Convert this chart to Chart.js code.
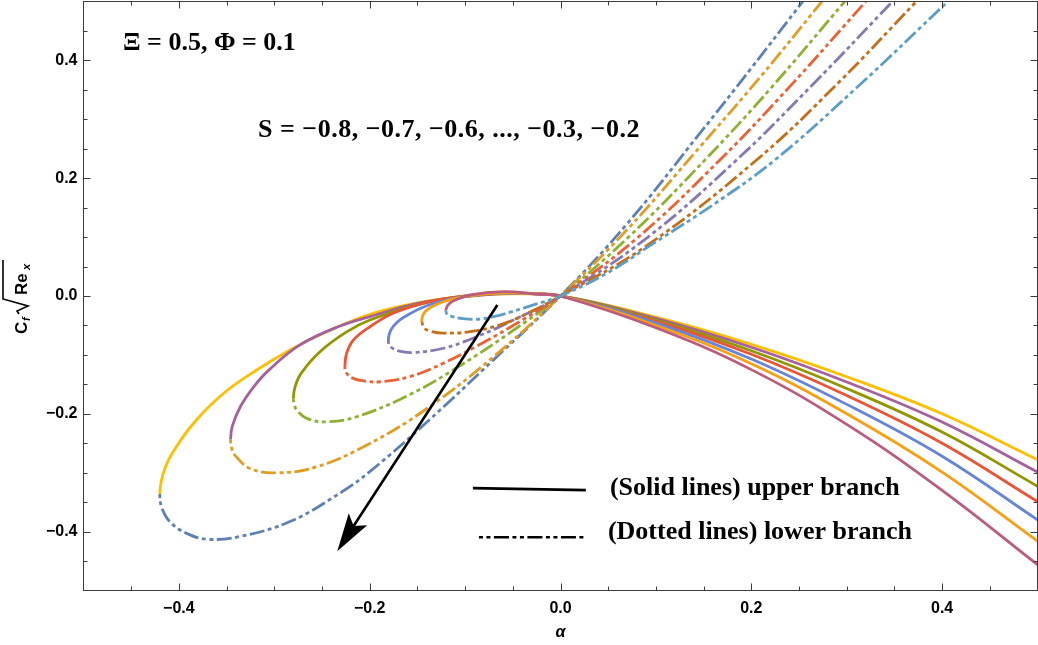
<!DOCTYPE html>
<html>
<head>
<meta charset="utf-8">
<script src="https://cdn.jsdelivr.net/npm/chart.js@4.4.0/dist/chart.umd.min.js"></script>
<style>
  html, body { margin: 0; padding: 0; background: #ffffff; }
  canvas { display: block; }
</style>
</head>
<body>
<canvas id="plot" width="1038" height="645"></canvas>
<script>
// Skin friction Cf*sqrt(Re_x) against alpha, for S = -0.8 ... -0.2
// Each branch is a list of [alpha, Cf*sqrt(Re_x)] pairs, both branches of a
// given S start at their common turning point.

// Lower (second) solution branches
const lowerS08 = [[-0.420,-0.336],[-0.4178,-0.360],[-0.409,-0.384],[-0.392,-0.403],[-0.370,-0.413],[-0.335,-0.408],[-0.283,-0.3825],[-0.2306,-0.334],[-0.199,-0.297],[-0.14,-0.214],[-0.07,-0.108],[0,0],[0.07,0.123],[0.146,0.276],[0.2,0.387],[0.254,0.5]];
const lowerS07 = [[-0.3458,-0.2435],[-0.3448,-0.258],[-0.3412,-0.2705],[-0.3255,-0.2928],[-0.2975,-0.3002],[-0.2555,-0.290],[-0.1998,-0.2503],[-0.14,-0.191],[-0.07,-0.103],[0,0],[0.07,0.113],[0.146,0.253],[0.21,0.373],[0.274,0.5]];
const lowerS06 = [[-0.2800,-0.1738],[-0.2788,-0.1852],[-0.2765,-0.1937],[-0.2660,-0.2078],[-0.2450,-0.2136],[-0.2136,-0.2050],[-0.1575,-0.167],[-0.105,-0.118],[-0.0528,-0.062],[0,0],[0.07,0.098],[0.1511,0.2305],[0.22,0.352],[0.298,0.5]];
const lowerS05 = [[-0.2259,-0.1172],[-0.2250,-0.129],[-0.2185,-0.139],[-0.2050,-0.1445],[-0.1892,-0.1456],[-0.1575,-0.1367],[-0.1226,-0.114],[-0.0877,-0.085],[-0.0528,-0.053],[0,0],[0.08,0.098],[0.1668,0.2305],[0.24,0.355],[0.320,0.5]];
const lowerS04 = [[-0.1804,-0.0746],[-0.1795,-0.083],[-0.1752,-0.0895],[-0.166,-0.0945],[-0.154,-0.096],[-0.1226,-0.0887],[-0.0877,-0.069],[-0.0528,-0.0435],[0,0],[0.09,0.098],[0.1843,0.2305],[0.265,0.36],[0.348,0.5]];
const lowerS03 = [[-0.1452,-0.0436],[-0.1435,-0.053],[-0.139,-0.0585],[-0.1226,-0.063],[-0.0947,-0.0605],[-0.0633,-0.049],[-0.0354,-0.030],[0,0],[0.09,0.085],[0.2052,0.2305],[0.29,0.36],[0.373,0.5]];
const lowerS02 = [[-0.1201,-0.0249],[-0.1192,-0.030],[-0.114,-0.0345],[-0.105,-0.0378],[-0.0877,-0.0395],[-0.0703,-0.035],[-0.0528,-0.0275],[-0.025,-0.0135],[0,0],[0.05,0.040],[0.1,0.092],[0.16,0.155],[0.2244,0.2305],[0.31,0.353],[0.406,0.5]];

// Upper (first) solution branches
const upperS08 = [[-0.420,-0.336],[-0.4182,-0.312],[-0.4137,-0.2885],[-0.4072,-0.2675],[-0.3849,-0.2165],[-0.3534,-0.1656],[-0.3185,-0.1257],[-0.2835,-0.0917],[-0.2486,-0.0634],[-0.1998,-0.031],[-0.15,-0.0115],[-0.1,-0.0005],[-0.05,0.0035],[0,0],[0.1,-0.036],[0.2,-0.082],[0.3,-0.137],[0.4,-0.200],[0.5,-0.278]];
const upperS07 = [[-0.3458,-0.2435],[-0.3441,-0.2215],[-0.3355,-0.1876],[-0.3214,-0.1537],[-0.3055,-0.1254],[-0.2731,-0.083],[-0.2312,-0.051],[-0.1998,-0.035],[-0.15,-0.0125],[-0.1,-0.001],[-0.05,0.0045],[0,0],[0.1,-0.038],[0.2,-0.087],[0.3,-0.146],[0.4,-0.214],[0.5,-0.299]];
const upperS06 = [[-0.2800,-0.1738],[-0.2782,-0.154],[-0.2719,-0.1313],[-0.2521,-0.0946],[-0.2242,-0.061],[-0.1998,-0.0408],[-0.15,-0.0145],[-0.1,0.0],[-0.05,0.005],[0,0],[0.1,-0.041],[0.2,-0.093],[0.3,-0.157],[0.4,-0.231],[0.5,-0.323]];
const upperS05 = [[-0.2259,-0.1172],[-0.2242,-0.0973],[-0.2172,-0.0748],[-0.1998,-0.0522],[-0.1750,-0.029],[-0.1401,-0.0107],[-0.1054,-0.001],[-0.06,0.0045],[-0.03,0.004],[0,0],[0.1,-0.043],[0.2,-0.099],[0.3,-0.169],[0.4,-0.250],[0.5,-0.349]];
const upperS04 = [[-0.1804,-0.0746],[-0.1797,-0.066],[-0.1772,-0.056],[-0.1720,-0.046],[-0.1647,-0.0365],[-0.1402,-0.0165],[-0.1053,-0.002],[-0.0705,0.004],[-0.035,0.004],[0,0],[0.1,-0.046],[0.2,-0.107],[0.3,-0.184],[0.4,-0.272],[0.5,-0.380]];
const upperS03 = [[-0.1452,-0.0436],[-0.1448,-0.035],[-0.1420,-0.0266],[-0.1350,-0.0181],[-0.1228,-0.0097],[-0.1053,-0.0022],[-0.0705,0.0046],[-0.035,0.0045],[0,0],[0.1,-0.050],[0.2,-0.115],[0.3,-0.200],[0.4,-0.299],[0.5,-0.416]];
const upperS02 = [[-0.1201,-0.0249],[-0.1195,-0.020],[-0.1175,-0.0145],[-0.1125,-0.0085],[-0.0948,0.0017],[-0.060,0.0073],[-0.025,0.0034],[0,0],[0.1,-0.054],[0.2,-0.125],[0.3,-0.218],[0.4,-0.330],[0.5,-0.456]];

const sLabels = ['-0.8', '-0.7', '-0.6', '-0.5', '-0.4', '-0.3', '-0.2'];
const lowerBranches = [lowerS08, lowerS07, lowerS06, lowerS05, lowerS04, lowerS03, lowerS02];
const upperBranches = [upperS08, upperS07, upperS06, upperS05, upperS04, upperS03, upperS02];

// Axis ticks
const xTickValues = [-0.4, -0.2, 0, 0.2, 0.4];
const yTickValues = [-0.4, -0.2, 0, 0.2, 0.4];
const minorTickValues = [-0.45, -0.35, -0.3, -0.25, -0.15, -0.1, -0.05, 0.05, 0.1, 0.15, 0.25, 0.3, 0.35, 0.45];

// Arrow showing the direction of decreasing S, in data units [alpha, Cf]
const arrowFrom = [-0.0662, -0.0153];
const arrowTo = [-0.2340, -0.4332];

// Styles
const lowerColors = ['#5E81B5', '#E19C24', '#8FB032', '#EB6235', '#8778B3', '#C56E1A', '#5D9EC7'];
const upperColors = ['#FFBF00', '#A5609D', '#929600', '#E95536', '#6685D9', '#F89F13', '#BC5B80'];
const dotDash = [4, 3.5, 4, 3.5, 15, 3.5];
const curveWidth = 2.8;

// One continuous curve per S: upper branch walked back to the turning point,
// then on along the lower branch, so the join is smooth. Segments before the
// turning point are solid, the rest dot-dashed.
const datasets = upperBranches.map((upper, i) => {
  const turn = upper.length - 1;
  const pts = upper.slice().reverse().concat(lowerBranches[i].slice(1));
  return {
    label: 'S = ' + sLabels[i],
    data: pts,
    showLine: true,
    pointRadius: 0,
    pointHoverRadius: 0,
    tension: 0.4,
    fill: false,
    clip: 0,
    borderWidth: curveWidth,
    borderCapStyle: 'butt',
    borderColor: upperColors[i],
    segment: {
      borderColor: ctx => (ctx.p0DataIndex < turn ? upperColors[i] : lowerColors[i]),
      borderDash: ctx => (ctx.p0DataIndex < turn ? [] : dotDash)
    },
    order: upperBranches.length - i
  };
});

function fmtTick(v) {
  if (Math.abs(v) < 1e-9) return '0.0';
  return (v < 0 ? '\u2212' : '') + Math.abs(v).toFixed(1);
}

const tickFont = { family: '"Liberation Sans", Arial, sans-serif', size: 16, weight: 'bold' };
const frameColor = '#3c3c3c';

// draw text so that it spans a given width by spreading the letters
function spreadText(ctx, text, x, y, width) {
  const natural = ctx.measureText(text).width;
  if ('letterSpacing' in ctx && width > natural) {
    ctx.letterSpacing = ((width - natural) / text.length).toFixed(2) + 'px';
    ctx.fillText(text, x, y);
    ctx.letterSpacing = '0px';
  } else {
    ctx.fillText(text, x, y);
  }
}

const decor = {
  id: 'decor',
  afterDatasetsDraw(chart) {
    const ctx = chart.ctx;
    const area = chart.chartArea;
    const xs = chart.scales.x, ys = chart.scales.y;
    const px = v => xs.getPixelForValue(v);
    const py = v => ys.getPixelForValue(v);
    ctx.save();

    // frame
    ctx.strokeStyle = frameColor;
    ctx.lineWidth = 1;
    ctx.setLineDash([]);
    ctx.strokeRect(area.left, area.top, area.right - area.left, area.bottom - area.top);

    // inward ticks on all four sides
    const drawX = (v, len) => {
      const X = Math.round(px(v)) + 0.5;
      ctx.beginPath();
      ctx.moveTo(X, area.bottom); ctx.lineTo(X, area.bottom - len);
      ctx.moveTo(X, area.top); ctx.lineTo(X, area.top + len);
      ctx.stroke();
    };
    const drawY = (v, len) => {
      const Y = Math.round(py(v)) + 0.5;
      ctx.beginPath();
      ctx.moveTo(area.left, Y); ctx.lineTo(area.left + len, Y);
      ctx.moveTo(area.right, Y); ctx.lineTo(area.right - len, Y);
      ctx.stroke();
    };
    xTickValues.forEach(v => drawX(v, 7));
    yTickValues.forEach(v => drawY(v, 7));
    minorTickValues.forEach(v => { drawX(v, 4); drawY(v, 4); });

    // arrow
    const x0 = px(arrowFrom[0]), y0 = py(arrowFrom[1]);
    const x1 = px(arrowTo[0]), y1 = py(arrowTo[1]);
    const dx = x1 - x0, dy = y1 - y0, L = Math.hypot(dx, dy);
    const ux = dx / L, uy = dy / L, nx = -uy, ny = ux;
    const headLen = 38, headHalf = 11, notch = 30;
    ctx.strokeStyle = '#000';
    ctx.fillStyle = '#000';
    ctx.lineWidth = 2.6;
    ctx.beginPath();
    ctx.moveTo(x0, y0);
    ctx.lineTo(x1 - ux * notch, y1 - uy * notch);
    ctx.stroke();
    ctx.beginPath();
    ctx.moveTo(x1, y1);
    ctx.lineTo(x1 - ux * headLen + nx * headHalf, y1 - uy * headLen + ny * headHalf);
    ctx.lineTo(x1 - ux * notch, y1 - uy * notch);
    ctx.lineTo(x1 - ux * headLen - nx * headHalf, y1 - uy * headLen - ny * headHalf);
    ctx.closePath();
    ctx.fill();

    // key samples
    ctx.lineWidth = 2.6;
    ctx.beginPath();
    ctx.moveTo(px(-0.0918), py(-0.3262));
    ctx.lineTo(px(0.0266), py(-0.3296));
    ctx.stroke();
    ctx.setLineDash(dotDash);
    ctx.beginPath();
    ctx.moveTo(px(-0.0855), py(-0.4095));
    ctx.lineTo(px(0.0277), py(-0.4095));
    ctx.stroke();
    ctx.setLineDash([]);

    // annotations
    ctx.fillStyle = '#000';
    ctx.textAlign = 'left';
    ctx.textBaseline = 'middle';
    ctx.font = 'bold 26px "Liberation Serif", "Times New Roman", serif';
    ctx.fillText('\u039E = 0.5, \u03A6 = 0.1', px(-0.4586), py(0.4298));
    spreadText(ctx, 'S = \u22120.8, \u22120.7, \u22120.6, ..., \u22120.3, \u22120.2', px(-0.3170), py(0.2812), 382);
    ctx.fillText('(Solid lines) upper branch', px(0.0518), py(-0.3262));
    ctx.fillText('(Dotted lines) lower branch', px(0.0497), py(-0.4010));

    // x-axis title
    ctx.textAlign = 'center';
    ctx.textBaseline = 'middle';
    ctx.font = 'italic bold 16px "Liberation Sans", Arial, sans-serif';
    ctx.fillText('\u03B1', (area.left + area.right) / 2, 633);

    // y-axis title: C_f sqrt(Re_x), rotated
    ctx.save();
    ctx.translate(27, 334);
    ctx.rotate(-Math.PI / 2);
    ctx.textAlign = 'left';
    ctx.textBaseline = 'alphabetic';
    ctx.font = 'bold 17px "Liberation Sans", Arial, sans-serif';
    ctx.fillText('C', 0, 0);
    ctx.font = 'italic bold 11px "Liberation Sans", Arial, sans-serif';
    ctx.fillText('f', 13, 3);
    ctx.lineWidth = 1.6;
    ctx.strokeStyle = '#000';
    ctx.beginPath();
    ctx.moveTo(20, -8);
    ctx.lineTo(23, -10);
    ctx.lineTo(28, 1);
    ctx.lineTo(35, -24);
    ctx.lineTo(74, -24);
    ctx.stroke();
    ctx.font = 'bold 17px "Liberation Sans", Arial, sans-serif';
    ctx.fillText('Re', 39, 0);
    ctx.font = 'italic bold 11px "Liberation Sans", Arial, sans-serif';
    ctx.fillText('x', 64, 3);
    ctx.restore();

    ctx.restore();
  }
};

new Chart(document.getElementById('plot').getContext('2d'), {
  type: 'scatter',
  data: { datasets },
  options: {
    responsive: false,
    animation: false,
    devicePixelRatio: 1,
    layout: { padding: { top: 1.5, right: 0.5, left: 0, bottom: 0 } },
    plugins: { legend: { display: false }, tooltip: { enabled: false } },
    scales: {
      x: {
        type: 'linear', min: -0.5, max: 0.5,
        afterBuildTicks: s => { s.ticks = xTickValues.map(v => ({ value: v })); },
        afterFit: s => { s.height = 54.5; s.paddingLeft = 0; s.paddingRight = 0; },
        grid: { display: false, drawTicks: false },
        border: { display: false },
        ticks: { font: tickFont, color: '#000', padding: 8, maxRotation: 0, autoSkip: false, callback: fmtTick }
      },
      y: {
        type: 'linear', min: -0.5, max: 0.5,
        afterBuildTicks: s => { s.ticks = yTickValues.map(v => ({ value: v })); },
        afterFit: s => { s.width = 83.5; s.paddingTop = 0; s.paddingBottom = 0; },
        grid: { display: false, drawTicks: false },
        border: { display: false },
        ticks: { font: tickFont, color: '#000', padding: 6, autoSkip: false, callback: fmtTick }
      }
    }
  },
  plugins: [decor]
});
</script>
</body>
</html>
